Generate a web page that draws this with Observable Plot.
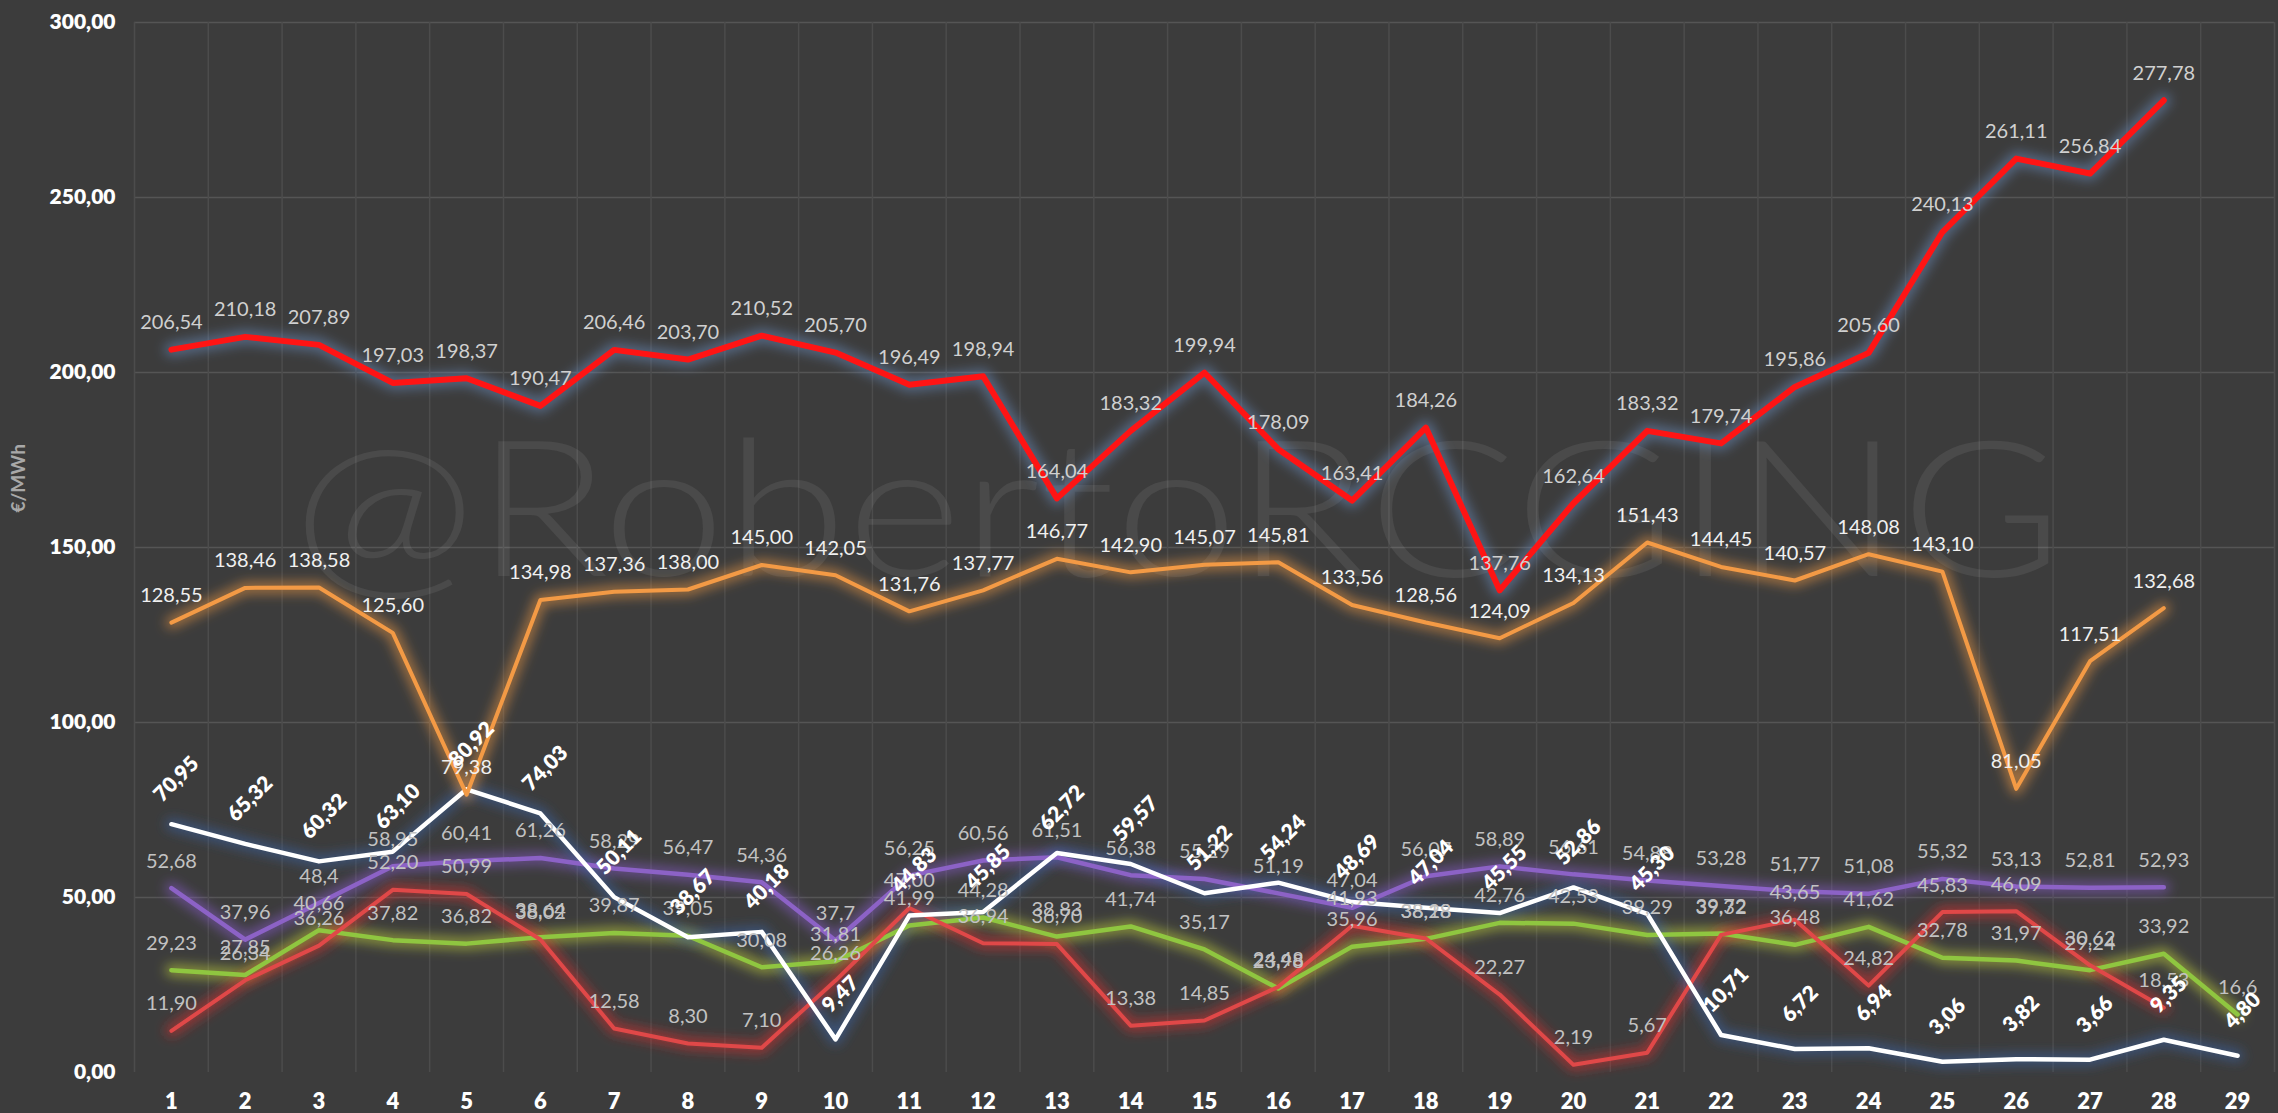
<!DOCTYPE html>
<html>
<head>
<meta charset="utf-8">
<script src="https://cdn.jsdelivr.net/npm/d3@7"></script>
<script src="https://cdn.jsdelivr.net/npm/@observablehq/plot@0.6"></script>
<style>
  html, body { margin: 0; padding: 0; background: #3c3c3c; }
  #chart { width: 2278px; height: 1113px; overflow: hidden; }
</style>
</head>
<body>
<div id="chart"></div>
<script>
// ---- data (values as printed on the chart, comma decimals) ----
const days = d3.range(1, 30);
const yTicks = [0, 50, 100, 150, 200, 250, 300];

const redTop = ["206,54","210,18","207,89","197,03","198,37","190,47","206,46","203,70","210,52","205,70","196,49","198,94","164,04","183,32","199,94","178,09","163,41","184,26","137,76","162,64","183,32","179,74","195,86","205,60","240,13","261,11","256,84","277,78"];
const orange = ["128,55","138,46","138,58","125,60","79,38","134,98","137,36","138,00","145,00","142,05","131,76","137,77","146,77","142,90","145,07","145,81","133,56","128,56","124,09","134,13","151,43","144,45","140,57","148,08","143,10","81,05","117,51","132,68"];
const white = ["70,95","65,32","60,32","63,10","80,92","74,03","50,11","38,67","40,18","9,47","44,83","45,85","62,72","59,57","51,22","54,24","48,69","47,04","45,55","52,86","45,30","10,71","6,72","6,94","3,06","3,82","3,66","9,35","4,80"];
const purple = ["52,68","37,96","48,4","58,95","60,41","61,26","58,29","56,47","54,36","37,7","56,25","60,56","61,51","56,38","55,29","51,19","47,04","56,07","58,89","56,61","54,88","53,28","51,77","51,08","55,32","53,13","52,81","52,93"];
const green = ["29,23","27,85","40,66","37,82","36,82","38,64","39,87","39,05","30,08","31,81","41,99","44,28","38,83","41,74","35,17","23,98","35,96","38,18","42,76","42,53","39,29","39,72","36,48","41,62","32,78","31,97","29,24","33,92","16,6"];
const salmon = ["11,90","26,34","36,26","52,20","50,99","38,02","12,58","8,30","7,10","26,26","47,00","36,94","36,70","13,38","14,85","24,48","41,93","38,28","22,27","2,19","5,67","39,32","43,65","24,82","45,83","46,09","30,62","18,53"];

const watermark = "@RobertoRCGING";
const unit = "€/MWh";

// ---- helpers ----
const num = s => +s.replace(",", ".");
const rows = arr => arr.map((s, i) => ({day: days[i], value: num(s), label: s}));
const fmtY = d => d.toFixed(2).replace(".", ",");

const series = [
  {data: rows(purple), color: "#8c62c6", glow: "#8a5cd0", w: 4.5, label: "#c2c2c2"},
  {data: rows(green),  color: "#8fc640", glow: "#c8d83a", w: 4.5, label: "#c2c2c2"},
  {data: rows(salmon), color: "#e04848", glow: "#e83030", w: 4,   label: "#c2c2c2"},
  {data: rows(white),  color: "#ffffff", glow: "#3c64a8", w: 4.5, label: null},
  {data: rows(orange), color: "#f39a45", glow: "#f39a45", w: 4,   label: "#f0f0f0"},
  {data: rows(redTop), color: "#ff1414", glow: "#6a8cc0", w: 6,   label: "#d0d0d0"}
];

const bounds = d3.range(0.5, 30, 1);

const marks = [
  Plot.gridY(yTicks.filter(d => d > 0), {stroke: "#555555", strokeOpacity: 1, strokeWidth: 1.5}),
  Plot.gridX(bounds, {stroke: "#4c4c4c", strokeOpacity: 1, strokeWidth: 1.5}),
  Plot.text([watermark], {frameAnchor: "middle", text: d => d, dx: -27, dy: -32,
    fontSize: 190, fontWeight: 300, fontFamily: "Lato", fill: "#ffffff", fillOpacity: 0.075}),
  // glows (first six line marks)
  ...series.map(s => Plot.line(s.data, {x: "day", y: "value", stroke: s.glow,
    strokeWidth: s.w + 8, strokeOpacity: 0.55, strokeLinejoin: "round"})),
  // lines
  ...series.map(s => Plot.line(s.data, {x: "day", y: "value", stroke: s.color,
    strokeWidth: s.w, strokeLinejoin: "round", strokeLinecap: "round"})),
  // plain labels
  ...series.filter(s => s.label).map(s => Plot.text(s.data, {x: "day", y: "value", text: "label",
    dy: -27, fill: s.label, fontSize: 20, fontFamily: "Lato", fontWeight: 400})),
  // bold rotated white labels
  Plot.text(rows(white), {x: "day", y: "value", text: "label", dx: 5, dy: -45, rotate: -45,
    fill: "#ffffff", fontSize: 21, fontFamily: "Lato", fontWeight: 800}),
  Plot.axisY(yTicks, {tickSize: 0, tickPadding: 19, tickFormat: fmtY, fontSize: 21,
    fontWeight: 800, fontFamily: "Lato", fill: "#ffffff", label: null}),
  Plot.axisX(days, {tickSize: 0, tickPadding: 21, tickFormat: d => String(d), fontSize: 22,
    fontWeight: 800, fontFamily: "Lato", fill: "#ffffff", label: null}),
  Plot.text([unit], {frameAnchor: "left", text: d => d, dx: -116, dy: -35, rotate: -90,
    fontSize: 19, fontWeight: 700, fontFamily: "Lato", fill: "#a8a8a8"})
];

const chart = Plot.plot({
  width: 2278,
  height: 1113,
  marginTop: 22,
  marginBottom: 41,
  marginLeft: 134,
  marginRight: 4,
  style: {background: "#3c3c3c", color: "#ffffff", fontFamily: "Lato", overflow: "visible"},
  x: {type: "linear", domain: [0.5, 29.5]},
  y: {domain: [0, 300]},
  marks
});

// glow filter + watermark width
const svg = d3.select(chart);
const defs = svg.insert("defs", ":first-child");
defs.append("filter").attr("id", "glow").attr("filterUnits", "userSpaceOnUse")
  .attr("x", 0).attr("y", 0).attr("width", 2278).attr("height", 1113)
  .append("feGaussianBlur").attr("stdDeviation", 6);
svg.selectAll('g[aria-label="line"]').filter((d, i) => i < series.length).attr("filter", "url(#glow)");
svg.select('g[aria-label="text"] text').attr("textLength", 1770).attr("lengthAdjust", "spacingAndGlyphs");

document.getElementById("chart").appendChild(chart);
</script>
</body>
</html>
